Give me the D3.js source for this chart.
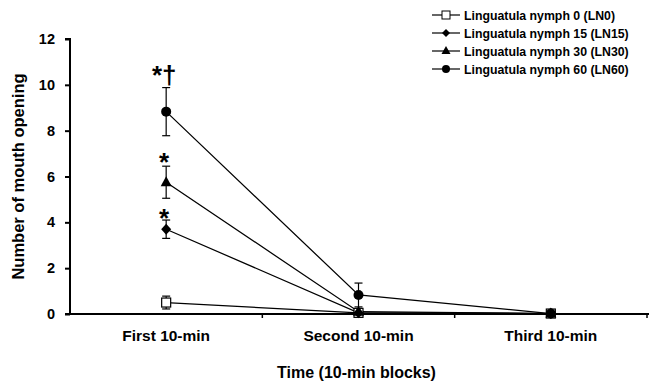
<!DOCTYPE html>
<html><head><meta charset="utf-8">
<script src="https://cdn.jsdelivr.net/npm/d3@7"></script>
<style>body{margin:0;background:#fff;} text{font-family:"Liberation Sans",Arial,sans-serif;font-weight:bold;}</style>
</head><body>
<svg id="c" width="649" height="382"></svg>
<script>
const categories = ["First 10-min", "Second 10-min", "Third 10-min"];
const seriesNames = ["Linguatula nymph 0 (LN0)", "Linguatula nymph 15 (LN15)", "Linguatula nymph 30 (LN30)", "Linguatula nymph 60 (LN60)"];
const ln0 = [0.5, 0.05, 0.02];
const ln0Err = [0.28, 0.05, 0.02];
const ln15 = [3.7, 0.05, 0.02];
const ln15Err = [0.4, 0.05, 0.02];
const ln30 = [5.75, 0.1, 0.02];
const ln30Err = [0.7, 0.05, 0.02];
const ln60 = [8.83, 0.83, 0.02];
const ln60Err = [1.05, 0.52, 0.02];
const markers = ["square", "diamond", "triangle", "circle"];
const yTicks = [0, 2, 4, 6, 8, 10, 12];
const annotations = [{cat: 0, value: 10.6, text: "*†"}, {cat: 0, value: 6.8, text: "*"}, {cat: 0, value: 4.35, text: "*"}];

const series = [
  {name: seriesNames[0], values: ln0, err: ln0Err, marker: markers[0]},
  {name: seriesNames[1], values: ln15, err: ln15Err, marker: markers[1]},
  {name: seriesNames[2], values: ln30, err: ln30Err, marker: markers[2]},
  {name: seriesNames[3], values: ln60, err: ln60Err, marker: markers[3]}
];

const svg = d3.select("#c");
const L = 70, R = 647, T = 39, B = 314;
const x = d3.scaleBand().domain(categories).range([L, R]).paddingInner(0).paddingOuter(0);
const y = d3.scaleLinear().domain([0, 12]).range([B, T]);
const cx = c => x(c) + x.bandwidth() / 2;

// y axis
const ya = svg.append("g").attr("transform", `translate(${L},0)`)
  .call(d3.axisLeft(y).tickValues(yTicks).tickSize(5).tickPadding(10));
ya.selectAll("text").style("font-size", "14.5px").attr("fill", "#000");
ya.selectAll("line, path").attr("stroke", "#000").attr("stroke-width", 2);
ya.select(".domain").attr("d", `M-5,${T}H0V${B}`);

// x axis
const xa = svg.append("g").attr("transform", `translate(0,${B})`);
xa.append("line").attr("x1", L - 5).attr("x2", R + 5).attr("y1", 0).attr("y2", 0).attr("stroke", "#000").attr("stroke-width", 2);
const bounds = categories.map(c => x(c)).concat([R]);
xa.selectAll(".tk").data(bounds.slice(1)).enter().append("line")
  .attr("x1", d => d).attr("x2", d => d).attr("y1", 0).attr("y2", 4).attr("stroke", "#000").attr("stroke-width", 1.5);
xa.selectAll(".lb").data(categories).enter().append("text")
  .attr("x", d => cx(d)).attr("y", 26.5).attr("text-anchor", "middle").style("font-size", "15.5px").text(d => d);

svg.append("text").attr("x", (L + R) / 2 - 2).attr("y", 378).attr("text-anchor", "middle").style("font-size", "16px").text("Time (10-min blocks)");
svg.append("text").attr("transform", `translate(24,${(T + B) / 2}) rotate(-90)`).attr("text-anchor", "middle").style("font-size", "16.5px").text("Number of mouth opening");

function drawMarker(g, type, px, py) {
  if (type === "square") g.append("rect").attr("x", px - 4.5).attr("y", py - 4.5).attr("width", 9).attr("height", 9).attr("fill", "#fff").attr("stroke", "#000").attr("stroke-width", 1.2);
  else if (type === "diamond") g.append("path").attr("d", `M${px},${py - 5.5}L${px + 5},${py}L${px},${py + 5.5}L${px - 5},${py}Z`).attr("fill", "#000");
  else if (type === "triangle") g.append("path").attr("d", `M${px},${py - 6}L${px + 5.5},${py + 4}L${px - 5.5},${py + 4}Z`).attr("fill", "#000");
  else g.append("circle").attr("cx", px).attr("cy", py).attr("r", 5).attr("fill", "#000");
}

const line = d3.line().x((d, i) => cx(categories[i])).y(d => y(d));
const plot = svg.append("g");
series.forEach(s => {
  plot.append("path").attr("d", line(s.values)).attr("fill", "none").attr("stroke", "#000").attr("stroke-width", 1.25);
});
series.forEach(s => {
  s.values.forEach((v, i) => {
    const px = cx(categories[i]);
    const y1 = y(v + s.err[i]), y0 = y(Math.max(0, v - s.err[i]));
    plot.append("line").attr("x1", px).attr("x2", px).attr("y1", y1).attr("y2", y0).attr("stroke", "#000").attr("stroke-width", 1.2);
    plot.append("line").attr("x1", px - 4).attr("x2", px + 4).attr("y1", y1).attr("y2", y1).attr("stroke", "#000").attr("stroke-width", 1.2);
    plot.append("line").attr("x1", px - 4).attr("x2", px + 4).attr("y1", y0).attr("y2", y0).attr("stroke", "#000").attr("stroke-width", 1.2);
  });
});
series.forEach(s => {
  s.values.forEach((v, i) => drawMarker(plot, s.marker, cx(categories[i]), y(v)));
});

annotations.forEach(a => {
  svg.append("text").attr("x", cx(categories[a.cat]) - 2).attr("y", y(a.value) + 13).attr("text-anchor", "middle").style("font-size", "26px").text(a.text);
});

// legend
const lg = svg.append("g");
series.forEach((s, i) => {
  const ly = 15 + i * 18;
  lg.append("line").attr("x1", 432).attr("x2", 460).attr("y1", ly).attr("y2", ly).attr("stroke", "#000").attr("stroke-width", 1.2);
  if (s.marker === "square") lg.append("rect").attr("x", 442).attr("y", ly - 4).attr("width", 8).attr("height", 8).attr("fill", "#fff").attr("stroke", "#000");
  else if (s.marker === "diamond") lg.append("path").attr("d", `M446,${ly - 4}L450,${ly}L446,${ly + 4}L442,${ly}Z`).attr("fill", "#000");
  else if (s.marker === "triangle") lg.append("path").attr("d", `M446,${ly - 5}L450.5,${ly + 3}L441.5,${ly + 3}Z`).attr("fill", "#000");
  else lg.append("circle").attr("cx", 446).attr("cy", ly).attr("r", 4).attr("fill", "#000");
  lg.append("text").attr("x", 464).attr("y", ly + 4.5).style("font-size", "12.3px").text(s.name);
});
</script>
</body></html>
